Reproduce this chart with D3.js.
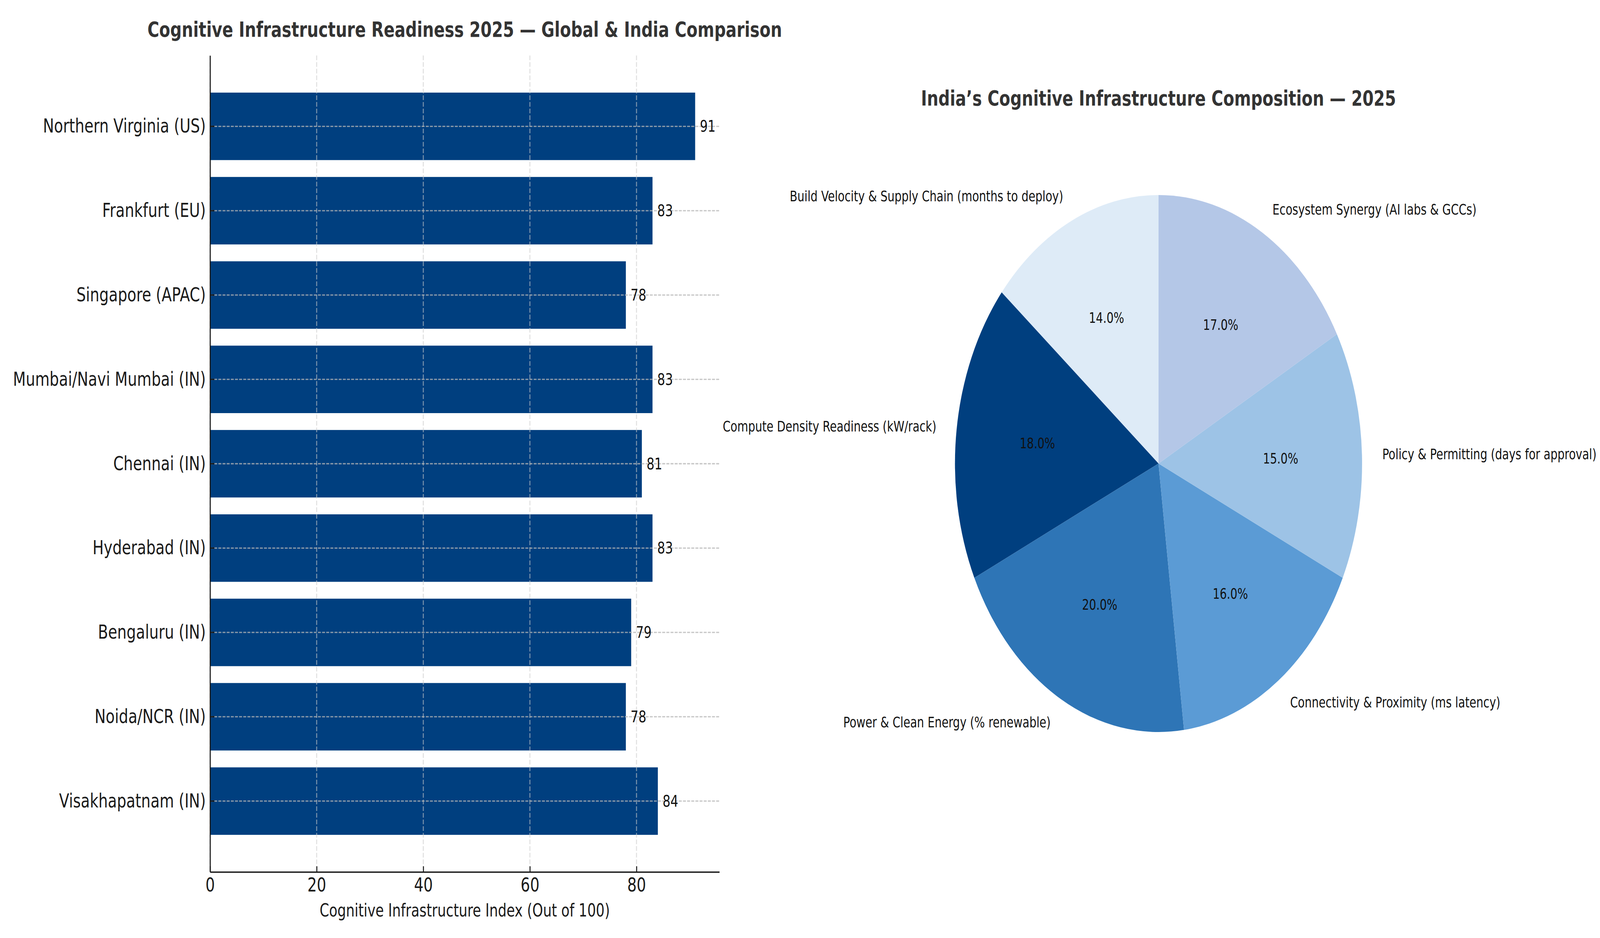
<!DOCTYPE html>
<html>
<head>
<meta charset="utf-8">
<script src="https://cdn.jsdelivr.net/npm/d3@7"></script>
<style>
html, body { margin: 0; padding: 0; background: #fff; overflow: hidden; width: 100%; height: 100%; }
#chart { width: 100vw; height: 100vh; }
svg { display: block; width: 100%; height: 100%; font-family: "DejaVu Sans", sans-serif; }
</style>
</head>
<body>
<div id="chart"></div>
<script>

// DATA -------------------------------------------------------------
var regions = [
  "Northern Virginia (US)", "Frankfurt (EU)", "Singapore (APAC)",
  "Mumbai/Navi Mumbai (IN)", "Chennai (IN)", "Hyderabad (IN)",
  "Bengaluru (IN)", "Noida/NCR (IN)", "Visakhapatnam (IN)"
]
var scores = [91, 83, 78, 83, 81, 83, 79, 78, 84]
var xTicks = [0, 20, 40, 60, 80]

var pillars = [
  "Build Velocity & Supply Chain (months to deploy)",
  "Compute Density Readiness (kW/rack)",
  "Power & Clean Energy (% renewable)",
  "Connectivity & Proximity (ms latency)",
  "Policy & Permitting (days for approval)",
  "Ecosystem Synergy (AI labs & GCCs)"
]
var shares = [14, 18, 20, 16, 15, 17]
var pieColors = ["#deebf7", "#003f7f", "#2e75b6", "#5b9bd5", "#9dc3e6", "#b4c7e7"]
// END --------------------------------------------------------------

var W = 5400, H = 2400
var pt = 300 / 72   // figure was 300 dpi

// the window may come out narrower than 5400 (clamped to 4096),
// so the 5400x2400 figure is mapped onto whatever window we get
var svg = d3.select("#chart").append("svg")
  .attr("viewBox", "0 0 " + W + " " + H)
  .attr("preserveAspectRatio", "none")

svg.append("rect").attr("width", W).attr("height", H).attr("fill", "#fff")

// BAR CHART --------------------------------------------------------
var plotLeft = 709, plotRight = 2428, plotTop = 142, plotBottom = 2231

var x = d3.scaleLinear()
  .domain([0, d3.max(scores) * 1.05])
  .range([plotLeft, plotRight])

var y = d3.scaleBand()
  .domain(regions)
  .range([plotTop, plotBottom])
  .paddingInner(0.2)
  .paddingOuter(0.44)

var g1 = svg.append("g")

g1.selectAll("rect.bar")
  .data(regions)
  .join("rect")
    .attr("class", "bar")
    .attr("x", x(0))
    .attr("y", function(d) { return y(d) })
    .attr("width", function(d, i) { return x(scores[i]) - x(0) })
    .attr("height", y.bandwidth())
    .attr("fill", "#003f7f")

// grid, drawn over the bars like the original
g1.selectAll("line.vgrid")
  .data(xTicks)
  .join("line")
    .attr("class", "vgrid")
    .attr("x1", function(d) { return x(d) })
    .attr("x2", function(d) { return x(d) })
    .attr("y1", plotTop)
    .attr("y2", plotBottom)
    .attr("stroke", "#cbcbcb")
    .attr("stroke-opacity", 0.6)
    .attr("stroke-width", 3.3)
    .attr("stroke-dasharray", "12,5")

g1.selectAll("line.hgrid")
  .data(regions)
  .join("line")
    .attr("class", "hgrid")
    .attr("x1", plotLeft)
    .attr("x2", plotRight)
    .attr("y1", function(d) { return y(d) + y.bandwidth() / 2 })
    .attr("y2", function(d) { return y(d) + y.bandwidth() / 2 })
    .attr("stroke", "#b6b6b6")
    .attr("stroke-opacity", 0.75)
    .attr("stroke-width", 3.3)
    .attr("stroke-dasharray", "10,4")

// axes (ticks point inward)
var yAxis = g1.append("g")
  .attr("transform", "translate(" + plotLeft + ",0)")
  .call(d3.axisLeft(y).tickSizeInner(-3.5 * pt).tickSizeOuter(0).tickPadding(3.5 * pt))

var xAxis = g1.append("g")
  .attr("transform", "translate(0," + plotBottom + ")")
  .call(d3.axisBottom(x).tickValues(xTicks).tickSizeInner(-3.5 * pt).tickSizeOuter(0).tickPadding(3.5 * pt))

;[yAxis, xAxis].forEach(function(a) {
  a.attr("font-family", null).attr("font-size", null).style("color", "#1a1a1a")
  a.select(".domain").attr("stroke-width", 3.6)
  a.selectAll(".tick line").attr("stroke-width", 3.3)
  a.selectAll(".tick text").style("font-size", (12 * pt) + "px")
})

g1.selectAll("text.value")
  .data(regions)
  .join("text")
    .attr("class", "value")
    .attr("x", function(d, i) { return x(scores[i]) + 16 })
    .attr("y", function(d) { return y(d) + y.bandwidth() / 2 })
    .attr("dominant-baseline", "central")
    .style("font-size", (10 * pt) + "px")
    .attr("fill", "#111")
    .text(function(d, i) { return scores[i] })

g1.append("text")
  .attr("x", (plotLeft + plotRight) / 2)
  .attr("y", 2345)
  .attr("text-anchor", "middle")
  .style("font-size", (11 * pt) + "px")
  .attr("fill", "#1a1a1a")
  .text("Cognitive Infrastructure Index (Out of 100)")

g1.append("text")
  .attr("x", (plotLeft + plotRight) / 2)
  .attr("y", 94)
  .attr("text-anchor", "middle")
  .style("font-size", (13 * pt) + "px")
  .style("font-weight", "bold")
  .attr("fill", "#333")
  .text("Cognitive Infrastructure Readiness 2025 \u2014 Global & India Comparison")

// PIE --------------------------------------------------------------
var cx = 3910, cy = 1186, r = 687

var pie = d3.pie().sort(null).startAngle(0).endAngle(-2 * Math.PI)
var arcs = pie(shares)
var arc = d3.arc().innerRadius(0).outerRadius(r)

var g2 = svg.append("g").attr("transform", "translate(" + cx + "," + cy + ")")

g2.selectAll("path")
  .data(arcs)
  .join("path")
    .attr("d", arc)
    .attr("fill", function(d, i) { return pieColors[i] })

function mid(d) { return (d.startAngle + d.endAngle) / 2 }

g2.selectAll("text.lbl")
  .data(arcs)
  .join("text")
    .attr("class", "lbl")
    .attr("x", function(d) { return 1.1 * r * Math.sin(mid(d)) })
    .attr("y", function(d) { return -1.1 * r * Math.cos(mid(d)) })
    .attr("text-anchor", function(d) { return Math.sin(mid(d)) < 0 ? "end" : "start" })
    .attr("dominant-baseline", "central")
    .style("font-size", (9 * pt) + "px")
    .attr("fill", "#111")
    .text(function(d, i) { return pillars[i] })

g2.selectAll("text.pct")
  .data(arcs)
  .join("text")
    .attr("class", "pct")
    .attr("x", function(d) { return 0.6 * r * Math.sin(mid(d)) })
    .attr("y", function(d) { return -0.6 * r * Math.cos(mid(d)) })
    .attr("text-anchor", "middle")
    .attr("dominant-baseline", "central")
    .style("font-size", (9 * pt) + "px")
    .attr("fill", "#111")
    .text(function(d) { return d.data.toFixed(1) + "%" })

svg.append("text")
  .attr("x", cx)
  .attr("y", 270)
  .attr("text-anchor", "middle")
  .style("font-size", (13 * pt) + "px")
  .style("font-weight", "bold")
  .attr("fill", "#333")
  .text("India\u2019s Cognitive Infrastructure Composition \u2014 2025")

</script>
</body>
</html>
